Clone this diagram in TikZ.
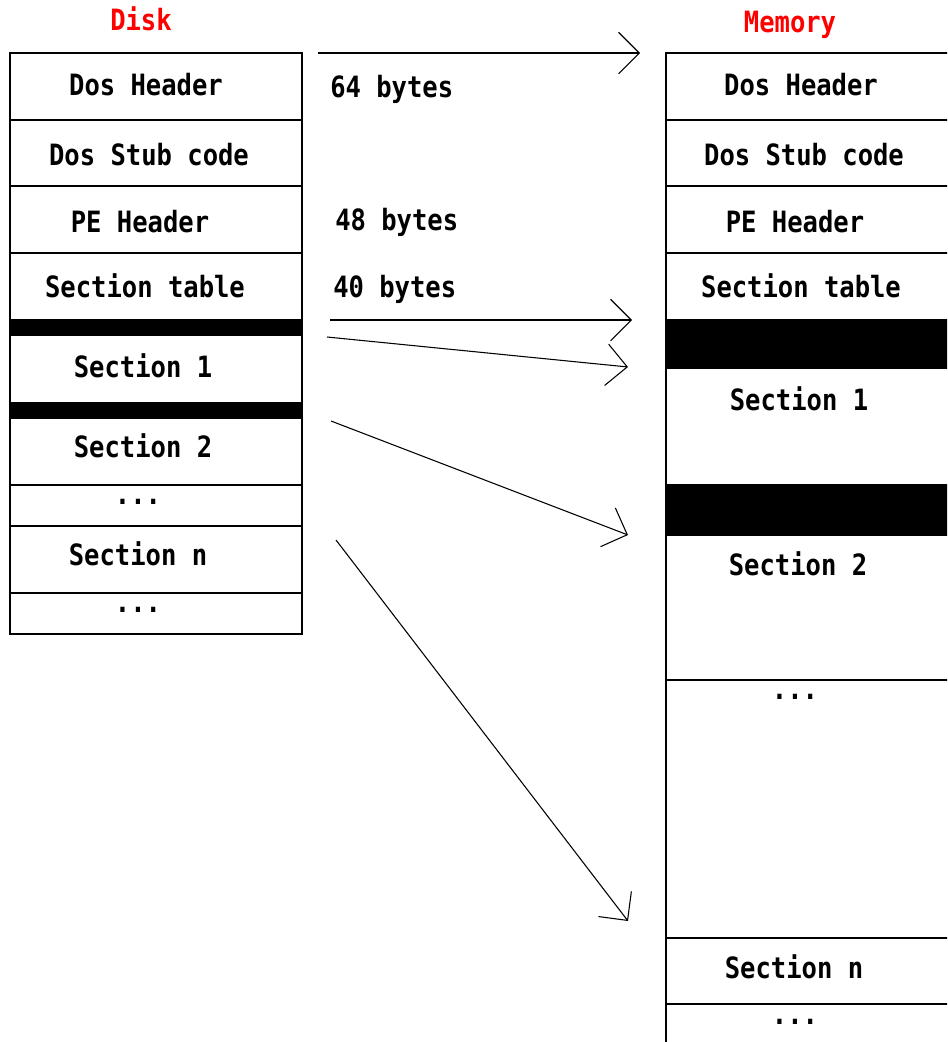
\documentclass[tikz,border=0pt]{standalone}
\usepackage{fontspec}
\newfontfamily\pefont[FakeStretch=0.87]{DejaVu Sans Mono}
\usetikzlibrary{arrows.meta}

\begin{document}
\begin{tikzpicture}[x=0.75pt, y=-0.75pt, line join=miter,
    every node/.style={font=\pefont\bfseries\fontsize{22}{24}\selectfont, inner sep=0pt, text height=16pt, text depth=0pt},
    frame/.style={line width=1pt},
    bar/.style={fill=black},
    title/.style={text=red},
    copyline/.style={->, line width=0.8pt},
    >={Straight Barb[angle=90:22pt]}]
    \useasboundingbox (0,0) rectangle (947,1042);
    \clip (0,0) rectangle (947,1042);

    % disk image
    \draw[frame] (10,53) rectangle (302,634);
    \foreach \y in {120,186,253,485,526,593}
      \draw[frame] (10,\y) -- (302,\y);
    \fill[bar] (10,319) rectangle (302,336);
    \fill[bar] (10,402) rectangle (302,419);

    % memory image
    \draw[frame] (666,1060) -- (666,53) -- (960,53);
    \foreach \y in {120,186,253,680,938,1004}
      \draw[frame] (666,\y) -- (960,\y);
    \fill[bar] (666,319) rectangle (960,369);
    \fill[bar] (666,484) rectangle (960,536);

    % titles
    \node[title] (disk) at (141,20) {Disk};
    \node[title] (mem) at (790,22) {Memory};

    % disk texts
    \node (ddos) at (146,85) {Dos Header};
    \node (dstub) at (149,155) {Dos Stub code};
    \node (dpe) at (140,222) {PE Header};
    \node (dsec) at (145,287) {Section table};
    \node (ds1) at (143,367) {Section 1};
    \node (ds2) at (143,447) {Section 2};
    \node (ddots1) at (138,494) {...};
    \node (dsn) at (138,555) {Section n};
    \node (ddots2) at (138,602) {...};

    % memory texts
    \node (mdos) at (801,85) {Dos Header};
    \node (mstub) at (804,155) {Dos Stub code};
    \node (mpe) at (795,222) {PE Header};
    \node (msec) at (801,287) {Section table};
    \node (ms1) at (799,400) {Section 1};
    \node (ms2) at (798,565) {Section 2};
    \node (mdots1) at (795,689) {...};
    \node (msn) at (794,968) {Section n};
    \node (mdots2) at (795,1014) {...};

    % sizes
    \node[anchor=west] (b64) at (330,87) {64 bytes};
    \node[anchor=west] (b48) at (335,220) {48 bytes};
    \node[anchor=west] (b40) at (333,287) {40 bytes};

    % mapping arrows
    \coordinate (hdrfrom) at (318,53);
    \coordinate (hdrto) at (640,53);
    \coordinate (tblfrom) at (330,320);
    \coordinate (tblto) at (632,320);
    \coordinate (s1from) at (327,337);
    \coordinate (s1to) at (628,367);
    \coordinate (s2from) at (331,421);
    \coordinate (s2to) at (628,535);
    \coordinate (snfrom) at (336,540);
    \coordinate (snto) at (628,921);
    \draw[copyline] (hdrfrom) -- (hdrto);
    \draw[copyline] (tblfrom) -- (tblto);
    \draw[copyline] (s1from) -- (s1to);
    \draw[copyline] (s2from) -- (s2to);
    \draw[copyline] (snfrom) -- (snto);
\end{tikzpicture}
\end{document}
